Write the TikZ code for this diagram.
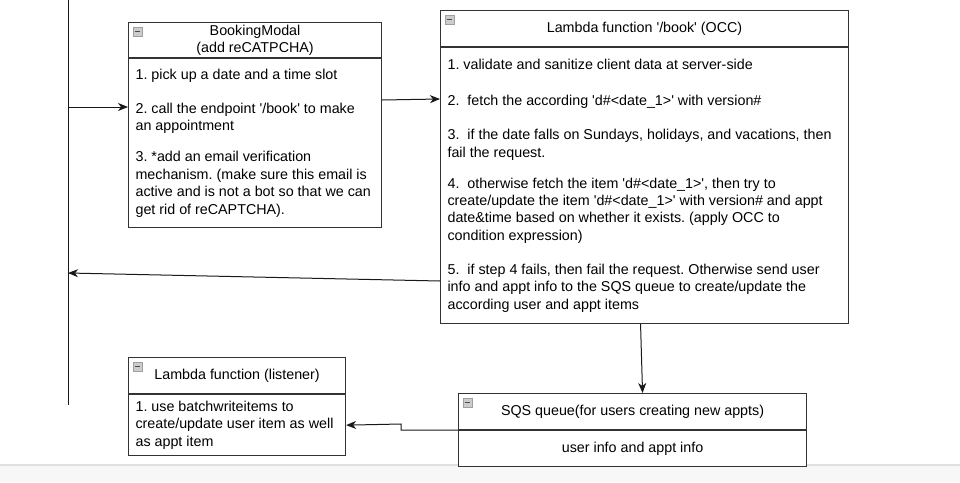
\documentclass[tikz,border=0pt]{standalone}
\usepackage{fontspec}
\setmainfont{Liberation Sans}
\usetikzlibrary{arrows.meta,positioning}
\newcommand{\q}{\textquotesingle}
\frenchspacing

\begin{document}
\begin{tikzpicture}[x=1pt,y=-1pt,font=\fontsize{14.3}{17.4}\selectfont]
	\tikzstyle{Head}	= [rectangle, draw=black!80, line width=1.1pt, fill=white, anchor=north west, inner sep=0pt, align=flush center]
	\tikzstyle{Body}	= [Head, align=flush left, inner xsep=7pt]
	\tikzstyle{Minus}	= [rectangle, draw=gray!75, fill=gray!40, minimum size=8.5pt, inner sep=0pt, anchor=north west,
				   path picture={\draw[black!70, line width=1.3pt] ([xshift=1.5pt]path picture bounding box.west) -- ([xshift=-1.5pt]path picture bounding box.east);}]
	\tikzstyle{Wire}	= [line width=1pt, black!90]
	\tikzstyle{Flow}	= [Wire, -{Stealth[length=10pt, width=8pt, inset=3pt]}]

	\useasboundingbox (0,0) rectangle (960,482);
	\fill[black!3] (0,465) rectangle (960,482);
	\draw[black!12, line width=1.2pt] (0,465) -- (960,465);

	\node (bmH) at (128,22) [Head, minimum width=253pt, minimum height=35pt] {BookingModal\\(add reCATPCHA)};
	\node (bmB) at (bmH.south west) [Body, text width=239pt, minimum height=169pt]
		{1. pick up a date and a time slot\\[16.6pt]
		 2. call the endpoint \q/book\q{} to make\\an appointment\\[13.6pt]
		 3. *add an email verification\\mechanism. (make sure this email is\\active and is not a bot so that we can\\get rid of reCAPTCHA).};

	\node (lbH) at (440,10) [Head, minimum width=408pt, minimum height=36pt] {Lambda function \q/book\q{} (OCC)};
	\node (lbB) at (lbH.south west) [Body, text width=394pt, minimum height=276pt]
		{1. validate and sanitize client data at server-side\\[18.6pt]
		 2.\ \ fetch the according \q d\#<date\_1>\q{} with version\#\\[16.6pt]
		 3.\ \ if the date falls on Sundays, holidays, and vacations, then\\fail the request.\\[13.6pt]
		 4.\ \ otherwise fetch the item \q d\#<date\_1>\q, then try to\\create/update the item \q d\#<date\_1>\q{} with version\# and appt\\date\&time based on whether it exists. (apply OCC to\\condition expression)\\[16.6pt]
		 5.\ \ if step 4 fails, then fail the request. Otherwise send user\\info and appt info to the SQS queue to create/update the\\according user and appt items};

	\node (lsH) at (128,357) [Head, minimum width=217pt, minimum height=36pt] {Lambda function (listener)};
	\node (lsB) at (lsH.south west) [Body, text width=203pt, minimum height=61pt]
		{1. use batchwriteitems to\\create/update user item as well\\as appt item};

	\node (sqH) at (458,393) [Head, minimum width=348pt, minimum height=36pt] {SQS queue(for users creating new appts)};
	\node (sqB) at (sqH.south west) [Head, minimum width=348pt, minimum height=36pt] {user info and appt info};

	\foreach \n in {bmH, lbH, lsH, sqH}
		\node (\n-icon) at ([xshift=5pt, yshift=-5pt]\n.north west) [Minus] {};

	\coordinate (lineTop) at (68,0);
	\coordinate (lineBot) at (68,405);
	\coordinate (lineIn) at (68,107);
	\coordinate (lineOut) at (68,273);
	\coordinate (sqBend) at (401,424);

	\draw [Wire] (lineTop) to (lineBot);
	\draw [Flow] (lineIn) to (lineIn -| bmB.west);
	\draw [Flow] (bmB.east |- 0,100) to (lbB.west |- 0,99);
	\draw [Flow] (lbB.west |- 0,281) to (lineOut);
	\draw [Flow] ([xshift=-4pt]lbB.south) to ([xshift=10pt]sqH.north);
	\draw [Flow] (sqB.north west) -| (sqBend) -- (lsB.east);
\end{tikzpicture}
\end{document}
